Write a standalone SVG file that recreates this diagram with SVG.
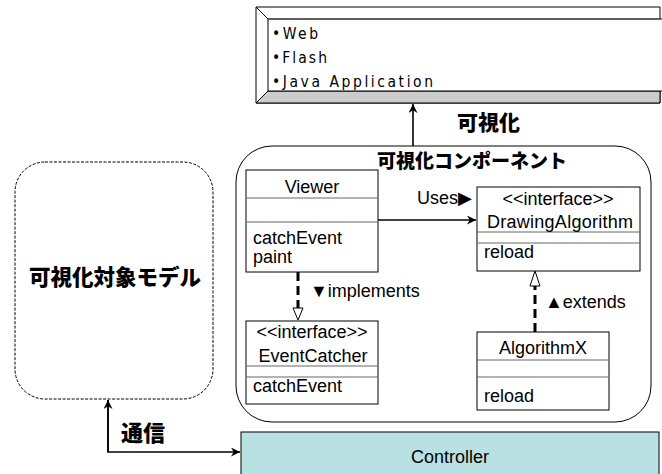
<svg xmlns="http://www.w3.org/2000/svg" width="662" height="474" viewBox="0 0 662 474">
<style>
.t{font-family:"Liberation Sans",Arial,sans-serif;font-size:18px;fill:#000}
.jp{font-family:"Noto Sans CJK JP",sans-serif;font-weight:900;fill:#000}
.box{fill:#fff;stroke:#000;stroke-width:1}
.div{stroke:#666;stroke-width:1}
.ln{fill:none;stroke:#000;stroke-width:1.6}
.dash{fill:none;stroke:#000;stroke-width:3;stroke-dasharray:9,5}
.tri{fill:#fff;stroke:#000;stroke-width:1}
.lst{font-family:"DejaVu Sans Condensed","Liberation Sans",Arial,sans-serif;font-stretch:condensed;font-size:15.5px;fill:#000}
</style>
<defs>
<marker id="ah" viewBox="0 0 10 10" refX="10" refY="5" markerWidth="9" markerHeight="9" markerUnits="userSpaceOnUse" orient="auto">
<path d="M0,0 L10,5 L0,10 L3,5 Z" fill="#000"/>
</marker>
</defs>
<rect width="662" height="474" fill="#fff"/>

<g id="platforms">
<polygon points="256,7 660,7 660,103 256,103" fill="#fff" stroke="#000"/>
<polygon points="256,103 268,91 660,91 660,103" fill="#cccccc" stroke="#000"/>
<line x1="256" y1="7" x2="268" y2="19" stroke="#000"/>
<rect x="268" y="19" width="400" height="72" fill="#fff" stroke="#000"/>
<line x1="268" y1="19" x2="660" y2="19" stroke="#555" stroke-width="1.5"/>
<text class="lst" x="272" y="39" textLength="46" lengthAdjust="spacing">•Web</text>
<text class="lst" x="272" y="63" textLength="55" lengthAdjust="spacing">•Flash</text>
<text class="lst" x="272" y="87" textLength="161" lengthAdjust="spacing">•Java Application</text>
</g>

<g id="component">
<rect x="236" y="146" width="415" height="276" rx="36" ry="36" fill="#fff" stroke="#000"/>
<text class="jp" x="472" y="168" font-size="19" text-anchor="middle">可視化コンポーネント</text>
</g>

<g id="model">
<rect x="15" y="162" width="198" height="237" rx="30" ry="30" fill="#fff" stroke="#000" stroke-dasharray="3,1.5"/>
<text class="jp" x="115" y="285" font-size="21.5" text-anchor="middle">可視化対象モデル</text>
</g>

<g id="viewer">
<rect class="box" x="246" y="170" width="132" height="102"/>
<line class="div" x1="246" y1="198" x2="378" y2="198"/>
<line class="div" x1="246" y1="222" x2="378" y2="222"/>
<text class="t" x="312" y="193" text-anchor="middle">Viewer</text>
<text class="t" x="253" y="244">catchEvent</text>
<text class="t" x="253" y="263">paint</text>
</g>

<g id="drawingAlgorithm">
<rect class="box" x="477" y="187" width="163" height="84"/>
<line class="div" x1="477" y1="232" x2="640" y2="232"/>
<line class="div" x1="477" y1="243" x2="640" y2="243"/>
<text class="t" x="558" y="205" text-anchor="middle">&lt;&lt;interface&gt;&gt;</text>
<text class="t" x="560" y="228" text-anchor="middle" textLength="146" lengthAdjust="spacing">DrawingAlgorithm</text>
<text class="t" x="484" y="258">reload</text>
</g>

<g id="eventCatcher">
<rect class="box" x="246" y="321" width="132" height="83"/>
<line class="div" x1="246" y1="366" x2="378" y2="366"/>
<line class="div" x1="246" y1="377" x2="378" y2="377"/>
<text class="t" x="312" y="338" text-anchor="middle">&lt;&lt;interface&gt;&gt;</text>
<text class="t" x="313" y="362" text-anchor="middle">EventCatcher</text>
<text class="t" x="253" y="392">catchEvent</text>
</g>

<g id="algorithmX">
<rect class="box" x="477" y="332" width="132" height="78"/>
<line class="div" x1="477" y1="360" x2="609" y2="360"/>
<line class="div" x1="477" y1="377" x2="609" y2="377"/>
<text class="t" x="543" y="354" text-anchor="middle">AlgorithmX</text>
<text class="t" x="484" y="402">reload</text>
</g>

<g id="controller">
<rect x="241" y="432" width="418" height="50" fill="#b9e0e3" stroke="#000"/>
<text class="t" x="450" y="463" font-size="22" text-anchor="middle">Controller</text>
</g>

<g id="connectors">
<line class="ln" x1="413" y1="146" x2="413" y2="104" marker-end="url(#ah)"/>
<text class="jp" x="457" y="130" font-size="21">可視化</text>
<line class="ln" x1="378" y1="220" x2="476" y2="220" marker-end="url(#ah)"/>
<text class="t" x="417" y="204">Uses▶</text>
<line class="dash" x1="298" y1="272" x2="298" y2="308"/>
<polygon class="tri" points="293,308 303,308 298,320"/>
<text class="t" x="310" y="297">▼implements</text>
<line class="dash" x1="535" y1="332" x2="535" y2="286"/>
<polygon class="tri" points="530,286 540,286 535,271"/>
<text class="t" x="545" y="308">▲extends</text>
<polyline class="ln" points="108,400 108,452 240,452" marker-end="url(#ah)"/>
<line class="ln" x1="108" y1="452" x2="108" y2="400" marker-end="url(#ah)"/>
<text class="jp" x="121" y="441" font-size="22">通信</text>
</g>
</svg>
